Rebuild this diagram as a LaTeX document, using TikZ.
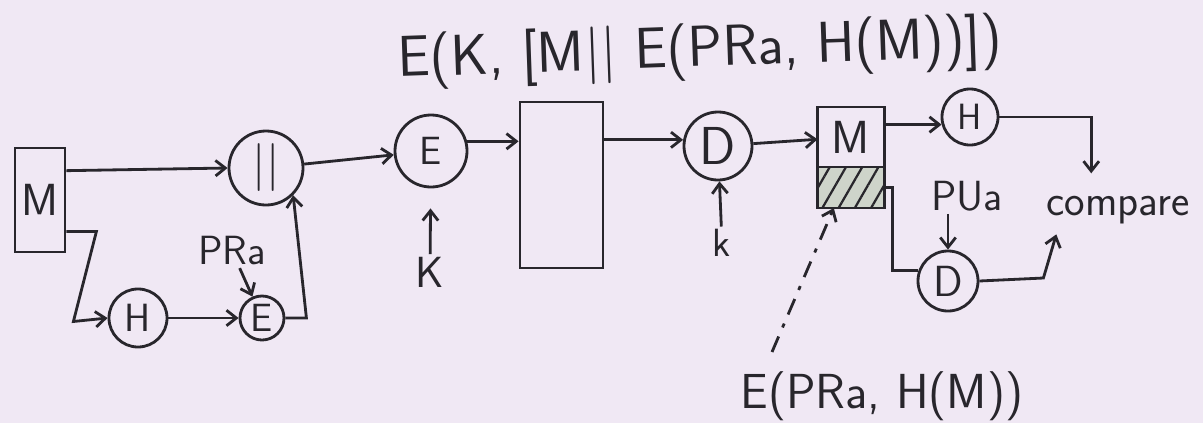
\documentclass[tikz,border=0pt]{standalone}
\usepackage{tikz}
\usetikzlibrary{arrows.meta, positioning, calc, patterns.meta}
\definecolor{paper}{RGB}{240,232,244}
\definecolor{ink}{RGB}{40,38,44}
\definecolor{hatch}{RGB}{206,212,202}

\begin{document}
\begin{tikzpicture}[
    x=0.025cm, y=-0.025cm,
    line width=2pt, color=ink,
    >={Straight Barb[length=7pt,width=11pt]},
    font=\sffamily,
    txt/.style={font=\sffamily\fontsize{#1}{#1}\selectfont, inner sep=1pt},
    blk/.style={rectangle, draw, minimum width=#1},
    circ/.style={circle, draw, minimum size=#1, inner sep=0pt},
    arrow/.style={->},
    ptr/.style={->, dash pattern=on 12pt off 7pt on 3pt off 7pt},
]
    \path[use as bounding box, fill=paper] (0,0) rectangle (1203,423);

    % sender
    \node[blk=1.25cm, minimum height=2.6cm, txt=32] (msg) at (40,200) {M};
    \node[circ=1.85cm, txt=34] (cat) at (266,168) {||};
    \node[circ=1.45cm, txt=28] (hsh) at (138,318) {H};
    \node[circ=1.1cm, txt=28] (sig) at (262,318) {E};
    \node[txt=29] (prA) at (232,251) {PRa};
    \node[circ=1.8cm, txt=28] (enc) at (431,151) {E};
    \node[txt=31] (kIn) at (430,272) {K};
    \node[txt=41, rotate=2] (ttl) at (700,52) {E(K, [M|| E(PRa, H(M))])};

    % channel
    \node[blk=2.075cm, minimum height=4.15cm] (chan) at (561.5,185) {};

    % receiver
    \node[circ=1.7cm, txt=38] (dec) at (718,146) {D};
    \node[txt=28] (kOut) at (722,243) {k};
    \node[blk=1.675cm, minimum height=1.5cm, outer sep=0pt, txt=33] (rcvM) at (851,137) {M};
    \node[blk=1.675cm, minimum height=1.025cm, outer sep=0pt, below=0pt of rcvM, fill=hatch,
          postaction={pattern={Lines[angle=60,distance=10pt,line width=1.6pt]}, pattern color=ink}] (rcvS) {};
    \node[circ=1.4cm, txt=26] (hOut) at (970,117) {H};
    \node[txt=30] (puA) at (967,196) {PUa};
    \node[circ=1.5cm, txt=31] (dec2) at (948,281) {D};
    \node[txt=31] (cmp) at (1118,210) {compare};
    \node[txt=35] (sigLbl) at (882,396) {E(PRa, H(M))};
    \coordinate (tail) at (772,352);

    \draw[arrow] (msg.48) -- (cat.west);
    \draw[arrow] (msg.-50) -- ++(30,0) -- ++(-23,90) -- (hsh.west);
    \draw[arrow] (hsh) -- (sig);
    \draw[arrow] (prA) -- (sig);
    \draw[arrow] (sig.east) -- ++(21,0) -- (cat.-45);
    \draw[arrow] (cat) -- (enc);
    \draw[arrow, shorten >=0.5cm] (kIn) -- (enc);
    \draw[arrow] (enc.15) -- (enc.15 -| chan.west);
    \draw[arrow] (dec.170 -| chan.east) -- (dec.170);
    \draw[arrow] (kOut) -- (dec);
    \draw[arrow] (dec) -- (rcvM);
    \draw[arrow] (hOut.195 -| rcvM.east) -- (hOut.195);
    \draw[arrow, shorten >=0.5cm] (hOut.east) -| ($(cmp.north west)!.32!(cmp.north east)$);
    \draw (rcvS.east) -- ++(8,0) |- (dec2.160);
    \draw[arrow] (dec2.north |- puA.south) -- (dec2.north);
    \draw[arrow, shorten >=0.2cm] (dec2.east) -- ++(64,-3) -- ($(cmp.south west)!.1!(cmp.south east)$);
    \draw[ptr] (tail) -- (rcvS.230);
\end{tikzpicture}
\end{document}
